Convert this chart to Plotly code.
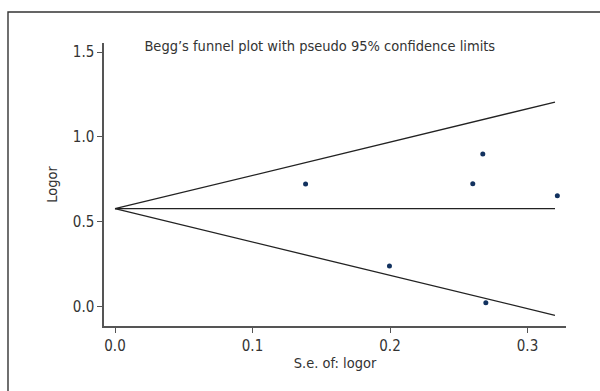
import plotly.graph_objects as go

# Data
se_logor = [0.1386, 0.1996, 0.2602, 0.2675, 0.2697, 0.3217]
logor = [0.7235, 0.241, 0.7255, 0.900, 0.0255, 0.655]
pooled = 0.578
se_max = 0.320
line_se = [0.0, se_max]
upper = [pooled, pooled + 1.96 * se_max]
lower = [pooled, pooled - 1.96 * se_max]
center = [pooled, pooled]
x_ticks = [0.0, 0.1, 0.2, 0.3]
x_tick_labels = ["0.0", "0.1", "0.2", "0.3"]
y_ticks = [0.0, 0.5, 1.0, 1.5]
y_tick_labels = ["0.0", "0.5", "1.0", "1.5"]

FONT = "DejaVu Sans Condensed, Liberation Sans Narrow, sans-serif"
line_style = dict(color="#222222", width=1.3)

fig = go.Figure()
for ys in (upper, center, lower):
    fig.add_trace(go.Scatter(x=line_se, y=ys, mode="lines", line=line_style,
                             showlegend=False, hoverinfo="skip"))
fig.add_trace(go.Scatter(x=se_logor, y=logor, mode="markers",
                         marker=dict(color="#12325f", size=5), showlegend=False))

fig.update_layout(
    width=600, height=391,
    margin=dict(l=104, r=34, t=43, b=65),
    paper_bgcolor="white", plot_bgcolor="white",
    font=dict(family=FONT, size=14, color="#333333"),
    title=dict(text="Begg\u2019s funnel plot with pseudo 95% confidence limits",
               x=0.533, xanchor="center", y=1 - 46 / 391, yanchor="middle",
               font=dict(family=FONT, size=14.5, color="#333333")),
    xaxis=dict(range=[-0.008, 0.328], tickvals=x_ticks, ticktext=x_tick_labels,
               showline=True, linecolor="#555555", linewidth=1.5,
               ticks="outside", ticklen=5, tickcolor="#555555",
               tickfont=dict(size=15),
               showgrid=False, zeroline=False,
               title=dict(text="S.e. of: logor", standoff=4,
                          font=dict(size=14.5))),
    yaxis=dict(range=[-0.112, 1.553], tickvals=y_ticks, ticktext=y_tick_labels,
               showline=True, linecolor="#555555", linewidth=1.5,
               ticks="outside", ticklen=5, tickcolor="#555555",
               tickfont=dict(size=15),
               showgrid=False, zeroline=False,
               title=dict(text="Logor", standoff=12, font=dict(size=14.5))),
)
fig.add_shape(type="rect", xref="paper", yref="paper",
              x0=-0.2078, x1=1.3, y0=-0.3, y1=1.1095,
              line=dict(color="#333333", width=1.4), layer="above")

fig.write_html("out.html",
               config={"displayModeBar": False},
               post_script="document.body.style.margin='0';"
                           "document.body.style.overflow='hidden';")
